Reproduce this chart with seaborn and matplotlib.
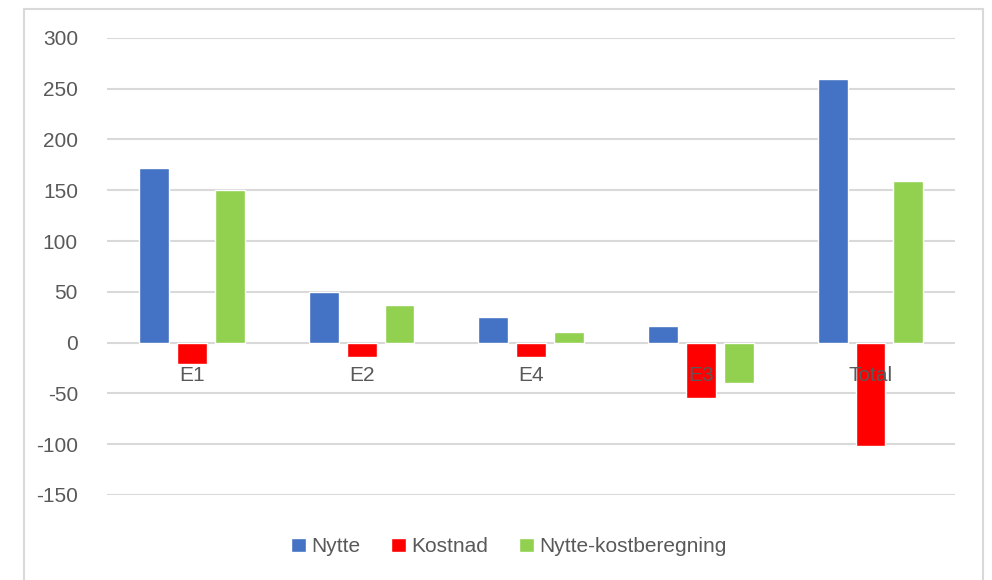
import matplotlib
matplotlib.use("Agg")
import matplotlib.pyplot as plt
from matplotlib.patches import Rectangle
import seaborn as sns
import pandas as pd

categories = ["E1", "E2", "E4", "E3", "Total"]
series = ["Nytte", "Kostnad", "Nytte-kostberegning"]
nytte = [172, 50, 25, 16, 260]
kostnad = [-21, -14, -14, -55, -102]
nytte_kost = [150, 37, 10, -40, 159]
colors = ["#4472C4", "#FF0000", "#92D050"]
yticks = [-150, -100, -50, 0, 50, 100, 150, 200, 250, 300]

df = pd.DataFrame({
    "kategori": categories * 3,
    "serie": [s for s in series for _ in categories],
    "verdi": nytte + kostnad + nytte_kost,
})

sns.set_style("white")
plt.rcParams["font.family"] = ["Liberation Sans", "DejaVu Sans"]
grey = "#595959"

fig = plt.figure(figsize=(9.92, 5.80), dpi=100)
ax = fig.add_axes([0.108, 0.1466, 0.855, 0.788])

sns.barplot(data=df, x="kategori", y="verdi", hue="serie", order=categories,
            hue_order=series, palette=colors, width=0.67, gap=0.21,
            saturation=1, ax=ax, zorder=2)

ax.set_ylim(-150, 300)
ax.set_xlim(-0.5, len(categories) - 0.5)
ax.set_yticks(yticks)
ax.set_yticklabels([str(v) for v in yticks], color=grey, fontsize=15)
ax.tick_params(axis="y", length=0, pad=21)
ax.set_xticks([])
ax.set_xlabel("")
ax.set_ylabel("")
for s in ax.spines.values():
    s.set_visible(False)
for v in yticks:
    ax.axhline(v, color="#D9D9D9", lw=1.5, zorder=0)

# kategorinavn like under nullinjen, over stolpene
for i, c in enumerate(categories):
    ax.annotate(c, xy=(i, 0), xytext=(0, -24), textcoords="offset points",
                ha="center", va="center", color=grey, fontsize=15, zorder=5)

handles, labels = ax.get_legend_handles_labels()
ax.get_legend().remove()
fig.legend(handles, labels, loc="center", bbox_to_anchor=(0.513, 0.057),
           ncol=3, frameon=False, fontsize=15, handlelength=0.7,
           handleheight=0.7, handletextpad=0.25, columnspacing=1.5,
           labelcolor=grey)

fig.patches.append(Rectangle((24 / 992, -0.05), (983 - 24) / 992, 1.05 - 9 / 580,
                             transform=fig.transFigure, fill=False,
                             edgecolor="#D9D9D9", lw=1.5))

fig.savefig("out.png", dpi=100, facecolor="white")
